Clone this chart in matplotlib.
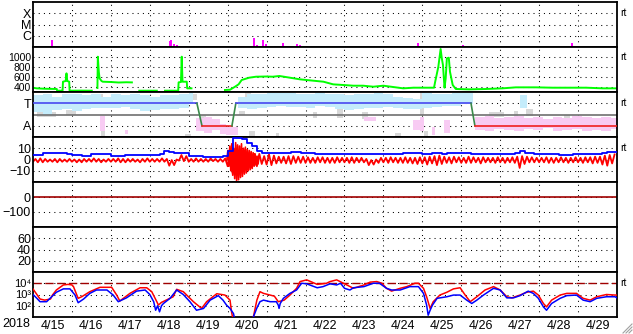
import numpy as np
import matplotlib
matplotlib.use("Agg")
import matplotlib.pyplot as plt
from matplotlib.ticker import NullLocator, FixedLocator
import matplotlib.transforms as mtransforms
from matplotlib.lines import Line2D

plt.rcParams['font.family'] = ['Liberation Sans', 'DejaVu Sans']
plt.rcParams['font.size'] = 9

# ---------------- data (x = days since 2018-04-15 00:00) ----------------
day_labels = ['4/15', '4/16', '4/17', '4/18', '4/19', '4/20', '4/21', '4/22',
              '4/23', '4/24', '4/25', '4/26', '4/27', '4/28', '4/29']
year_label = '2018'

# X-ray flare markers
flare_t = [0.49, 3.51, 3.55, 3.62, 3.70, 3.78, 3.93, 5.32, 5.36, 5.39, 5.68, 5.75,
           5.92, 5.99, 6.22, 6.43, 6.77, 6.86, 8.77, 9.90, 11.05, 13.85]
flare_flux = [4.2e-7, 3.6e-7, 4.2e-7, 1.7e-7, 1.5e-7, 1.3e-7, 1.2e-7, 1.3e-7, 1.3e-7,
              1.3e-7, 6.3e-7, 1.5e-7, 4.2e-7, 1.9e-7, 1.2e-7, 2.4e-7, 1.9e-7, 1.5e-7,
              1.2e-7, 2.4e-7, 1.4e-7, 2.1e-7]

# Solar wind speed (nan = data gap)
speed_t = [0.0, 0.09, 0.3, 0.61, 0.62, 0.74, 0.76, 0.77, 0.84, 0.86, 0.88, 0.93, 0.94, 1.2, 1.51, 1.52,
           1.655, 1.665, 1.69, 1.71, 1.76, 1.79, 2.0, 2.2, 2.4, 2.54, 2.55,
           2.73, 3.18, 3.19,
           3.39, 3.73, 3.74, 3.80, 3.82, 3.84, 3.95, 3.96, 4.07, 4.08,
           4.93, 5.06, 5.19, 5.28, 5.36, 5.55, 5.73, 6.0, 6.16, 6.33, 6.6, 6.86, 7.11, 7.46,
           7.71, 7.97, 8.23, 8.48, 8.74, 9.0, 9.25, 9.51, 9.77, 10.03, 10.3, 10.33, 10.41,
           10.47, 10.5, 10.53, 10.57, 10.6, 10.63, 10.68, 10.71, 10.78, 10.86, 11.2, 11.63,
           12.06, 12.4, 12.92, 13.35, 13.78, 14.21, 14.64, 15.0]
speed_v = [386, 373, 365, 360, 326, 326, 330, 506, 520, 673, 520, 506, 326, 328, 326, np.nan,
           380, 1006, 706, 573, 520, 506, 500, 490, 495, 492, np.nan,
           326, 326, np.nan,
           326, 326, 493, 500, 1006, 506, 506, 373, 373, np.nan,
           340, 345, 406, 453, 540, 586, 606, 610, 606, 620, 586, 553, 533, 506,
           453, 440, 426, 426, 406, 426, 400, 373, 386, 386, 386, 506, 800,
           1160, 973, 840, 386, 573, 973, 986, 706, 440, 360, 353, 360,
           373, 393, 393, 386, 386, 386, 373, 373]

# IMF sector (3 = Toward, 1 = Away)
sector_t = [0.0, 4.21, 4.34, 5.11, 5.21, 11.25, 11.35, 15.0]
sector_v = [3, 3, 1, 1, 3, 3, 1, 1]

# Light-blue / pink / grey polarity scatter, as (start, end, low, high) stripes
blue_t0 = [0, .25, .5, .75, 1, 1.25, 1.5, 1.75, 2, 2.25, 2.5, 2.75, 3, 3.25, 3.5, 3.75, 4.0,
           5.27, 5.5, 5.75, 6, 6.25, 6.5, 6.75, 7, 7.25, 7.5, 7.75, 8, 8.25, 8.5, 8.75,
           9, 9.25, 9.5, 9.75, 10, 10.25, 10.5, 10.75, 11.0, 12.5]
blue_t1 = [.25, .5, .75, 1, 1.25, 1.5, 1.75, 2, 2.25, 2.5, 2.75, 3, 3.25, 3.5, 3.75, 4.0, 4.12,
           5.5, 5.75, 6, 6.25, 6.5, 6.75, 7, 7.25, 7.5, 7.75, 8, 8.25, 8.5, 8.75, 9,
           9.25, 9.5, 9.75, 10, 10.25, 10.5, 10.75, 11.0, 11.3, 12.7]
blue_lo = [2.2, 2.0, 2.4, 2.5, 2.3, 2.5, 2.6, 2.6, 2.6, 2.7, 2.5, 2.3, 2.4, 2.5, 2.5, 2.6, 2.9,
           2.6, 2.5, 2.6, 2.7, 2.8, 2.7, 2.7, 2.6, 2.8, 2.7, 2.5, 2.4, 2.5, 2.6, 2.6,
           2.7, 2.6, 2.5, 2.5, 2.6, 2.7, 2.8, 2.8, 2.9, 2.6]
blue_hi = [3.7, 3.8, 3.6, 3.8, 3.8, 3.7, 3.8, 3.6, 3.8, 3.7, 3.8, 3.7, 3.6, 3.7, 3.7, 3.8, 3.9,
           3.6, 3.8, 3.8, 3.9, 3.9, 3.9, 3.8, 3.8, 3.9, 3.8, 3.8, 3.7, 3.8, 3.8, 3.9,
           3.8, 3.6, 3.5, 3.4, 3.9, 3.8, 3.8, 3.9, 3.9, 3.7]

pink_t0 = [1.72, 2.37, 4.18, 4.4, 4.6, 4.8, 4.95, 8.5, 9.75, 9.95, 10.25, 10.55,
           11.35, 11.6, 11.85, 12.1, 12.35, 12.6, 12.85, 13.1, 13.35, 13.6, 13.85, 14.1,
           14.35, 14.6, 14.85]
pink_t1 = [1.85, 2.45, 4.4, 4.6, 4.8, 4.95, 5.27, 8.8, 10.0, 10.05, 10.32, 10.7,
           11.6, 11.85, 12.1, 12.35, 12.6, 12.85, 13.1, 13.35, 13.6, 13.85, 14.1, 14.35,
           14.6, 14.85, 15.0]
pink_lo = [0.5, 0.3, 0.5, 0.4, 0.6, 0.3, 0.2, 1.4, 0.6, 0.5, 0.2, 0.4,
           0.6, 0.5, 0.7, 0.6, 0.5, 0.7, 0.6, 0.8, 0.5, 0.6, 0.7, 0.5,
           0.6, 0.5, 0.7]
pink_hi = [1.85, 0.6, 1.7, 1.8, 1.6, 1.2, 0.9, 1.8, 1.5, 1.8, 0.9, 1.5,
           1.8, 1.9, 1.7, 1.8, 1.9, 1.7, 1.8, 1.6, 1.8, 1.7, 1.9, 1.8,
           1.7, 1.8, 1.7]

grey_t0 = [0.1, 0.85, 1.68, 1.75, 3.9, 3.95, 4.3, 5.3, 5.45, 5.55, 6.25, 7.2, 7.8,
           8.45, 9.3, 9.95, 10.05, 11.7, 12.35, 12.65, 13.65]
grey_t1 = [0.6, 1.1, 1.8, 1.85, 4.05, 4.2, 4.45, 5.45, 5.6, 5.7, 6.32, 7.3, 7.95,
           8.6, 9.45, 10.05, 10.15, 12.1, 12.45, 12.85, 13.8]
grey_lo = [1.8, 2.0, 3.3, 0.0, 0.0, 3.3, 1.2, 2.0, 3.6, 0.0, 0.0, 1.7, 1.7,
           1.6, 0.0, 2.0, 0.0, 1.8, 1.9, 1.9, 1.6]
grey_hi = [2.2, 2.4, 3.8, 0.5, 0.3, 3.8, 2.0, 2.3, 4.0, 0.5, 0.4, 2.2, 2.5,
           2.2, 0.4, 3.9, 0.5, 2.2, 2.3, 2.5, 2.0]

# IMF Bt (blue) and Bz range (red), 3-hour bins
bt = [4.0, 4.2, 5.5, 6.0, 6.2, 5.8, 5.5, 5.2,
      4.0, 3.8, 3.5, 3.2, 4.5, 5.0, 5.2, 5.0,
      3.2, 3.0, 3.5, 4.0, 4.0, 4.2, 4.0, 4.0,
      4.0, 4.2, 4.5, 7.5, 7.0, 6.2, 6.0, 6.0,
      3.0, 2.8, 2.8, 2.6, 2.5, 2.5, 2.6, 3.0,
      8.0, 19.0, 19.0, 18.0, 15.0, 12.0, 8.0, 6.0,
      6.0, 6.2, 6.2, 6.0, 5.8, 6.5, 6.3, 6.0,
      5.5, 5.5, 5.3, 5.3, 5.2, 5.0, 5.0, 5.0,
      5.0, 5.0, 5.2, 5.0, 4.8, 4.6, 4.5, 4.5,
      4.8, 5.0, 5.0, 4.8, 5.5, 5.8, 5.5, 5.5,
      5.0, 5.2, 5.5, 5.5, 5.2, 5.5, 5.5, 5.5,
      5.5, 5.5, 5.0, 5.0, 5.2, 5.3, 5.0, 5.0,
      5.0, 5.2, 5.2, 5.5, 8.0, 6.0, 5.5, 5.0,
      5.0, 5.2, 5.0, 4.5, 4.2, 4.0, 4.2, 4.5,
      5.0, 5.2, 5.0, 5.2, 5.0, 5.5, 6.8, 7.0]
bz_lo = [-2, -2.5, -2.5, -2, -2, -2.5, -2, -2,
         -2, -2.5, -2.5, -2, -2, -2, -2.5, -2,
         -2, -2, -2.5, -2.5, -2, -2, -2.5, -2,
         -2, -2, -2, -2, -5.5, -5, -1, -1.5,
         -2, -2, -2, -2, -2, -1.5, -2, -2,
         -6, -12, -12, -10, -9, -7, -6, -4,
         -4.5, -5, -3.5, -3, -3.5, -4, -3, -3,
         -3, -3, -3, -2.5, -3, -3, -3, -2.5,
         -2.5, -3, -3, -2.5, -2.5, -5, -4.5, -3,
         -2.5, -3, -2.5, -3, -3, -3, -3.5, -4,
         -3.5, -4.5, -3.5, -5, -4, -3, -3.5, -2.5,
         -3, -3, -3, -2.5, -3.5, -2.5, -2.5, -3,
         -2.5, -3, -2.5, -3, -7.5, -4, -2.5, -2.5,
         -2.5, -2.5, -3, -3, -2.5, -2.5, -3, -2.5,
         -2.5, -3, -2.5, -3.5, -3, -4.5, -5.5, -3.5]
bz_hi = [0.5, 1, 0.5, 0, 0.5, 0.5, 0, 0.5,
         0, 0, 0.5, 0.5, 1, 0.5, 0, 0.5,
         0.5, 1, 0.5, 0.5, 0.5, 0, 0.5, 1,
         0.5, 0.5, 1, 0.5, -0.5, 0, 4, 3,
         0.5, 1, 0.5, 0.5, 1, 0.5, 0.5, 1,
         6, 9, 9, 8, 6, 5, 5, 3,
         4.5, 3.5, 2.5, 2.5, 3, 3, 2.5, 2.5,
         2, 1.5, 2, 2, 1.5, 1.5, 2, 1.5,
         1.5, 2, 1.5, 1.5, 0.5, -0.5, 0, 1.5,
         1.5, 2, 1.5, 1.5, 2, 1.5, 1.5, 2,
         2, 2.5, 3, 3.5, 2.5, 2, 2.5, 2,
         1.5, 2.5, 2, 1.5, 2, 1.5, 1.5, 2,
         1.5, 1.5, 2, 2.5, 3, 2.5, 2, 1.5,
         1.5, 2, 1.5, 1.5, 2, 1.5, 1.5, 2,
         1.5, 2, 2, 2.5, 2.5, 3.5, 4, 4.5]
# storm interval Bz, finer sampling (4/20 00-19 UT)
storm_t0 = 4.98
storm_dt = 0.025
storm_bz = [0, 8, -6, 12, -10, 14, -14, 10, -17, 15, -19, 13, -18, 12, -16, 14, -15, 10,
            -13, 11, -12, 9, -10, 8, -9, 7, -8, 6, -6, 5, -5, 3, -4, 2]

# Dst
dst_t = [0.0, 15.0]
dst_v = [0.0, 0.0]

# Electron flux (log10), red and blue
e_red_t = [0.0, 0.1, 0.18, 0.3, 0.45, 0.5, 0.6, 0.78, 0.9, 1.0, 1.04, 1.12, 1.16, 1.25, 1.46, 1.72,
           2.02, 2.15, 2.23, 2.49, 2.75, 2.92, 3.05, 3.18, 3.22, 3.3, 3.6, 3.69, 3.86, 4.12, 4.33,
           4.46, 4.72, 4.93, 5.06, 5.1, 5.15, 5.6, 5.66, 5.75, 5.83, 5.92, 6.09, 6.2, 6.3, 6.45,
           6.6, 6.77, 6.86, 7.03, 7.3, 7.54, 7.63, 7.8, 8.06, 8.23, 8.5, 8.66, 8.83, 8.96, 9.08,
           9.21, 9.43, 9.6, 9.81, 9.9, 10.03, 10.11, 10.2, 10.28, 10.45, 10.63, 10.8, 10.97,
           11.1, 11.23, 11.4, 11.61, 11.83, 12.0, 12.17, 12.3, 12.51, 12.68, 12.85, 12.98,
           13.11, 13.19, 13.32, 13.54, 13.71, 13.96, 14.13, 14.31, 14.48, 14.73, 14.95, 15.0]
e_red_log = [3.49, 3.0, 2.6, 2.5, 2.6, 2.95, 3.4, 3.85, 3.9, 3.85, 3.7, 3.0, 2.66, 2.8, 3.25, 3.64,
             3.64, 2.95, 2.42, 3.1, 3.6, 3.6, 3.25, 2.36, 2.06, 2.3, 2.8, 3.46, 3.25, 2.36, 1.76,
             2.36, 3.07, 2.95, 2.5, 1.46, 0.5, 0.5, 1.0, 2.5, 3.25, 3.1, 2.95, 2.85, 2.36, 2.5,
             2.95, 3.55, 4.15, 4.3, 3.9, 4.0, 4.15, 4.3, 3.85, 3.55, 3.85, 4.1, 4.15, 4.0, 3.55,
             3.3, 3.55, 3.7, 4.0, 4.0, 3.55, 2.8, 1.76, 2.36, 2.95, 3.2, 3.5, 3.6,
             2.95, 2.36, 2.8, 3.4, 3.7, 3.4, 2.8, 2.7, 2.95, 3.2, 3.3, 2.95,
             2.2, 1.9, 2.5, 2.95, 3.1, 3.1, 2.66, 2.5, 2.8, 3.0, 2.95, 2.95]
e_blue_t = [0.0, 0.1, 0.18, 0.35, 0.45, 0.6, 0.78, 0.95, 1.08, 1.16, 1.3, 1.46, 1.63, 1.9, 2.06,
            2.19, 2.4, 2.66, 2.88, 3.0, 3.1, 3.15, 3.2, 3.25, 3.3, 3.35, 3.52, 3.69, 3.86, 4.03,
            4.2, 4.38, 4.55, 4.76, 4.88, 4.97, 5.06, 5.15, 5.2, 5.58, 5.66, 5.75, 5.83, 5.92,
            6.09, 6.25, 6.3, 6.32, 6.35, 6.43, 6.6, 6.77, 6.9, 7.03, 7.3, 7.45, 7.63, 7.8, 7.9,
            8.0, 8.14, 8.23, 8.5, 8.74, 8.9, 9.08, 9.21, 9.43, 9.68, 9.9, 10.03, 10.11, 10.15,
            10.2, 10.26, 10.38, 10.63, 10.8, 10.97, 11.14, 11.27, 11.4, 11.57, 11.83, 12.0,
            12.17, 12.34, 12.51, 12.72, 12.85, 12.98, 13.11, 13.19, 13.32, 13.54, 13.71, 13.96,
            14.13, 14.31, 14.48, 14.73, 14.95, 15.0]
e_blue_log = [3.0, 2.66, 2.36, 2.36, 2.7, 3.2, 3.5, 3.5, 2.95, 2.27, 2.6, 3.1, 3.4, 3.4, 2.95,
              2.36, 2.7, 3.3, 3.4, 3.0, 2.36, 1.6, 2.0, 1.46, 2.0, 2.2, 2.66, 3.4, 3.0, 2.36,
              1.6, 1.76, 2.5, 2.9, 2.5, 2.06, 1.76, 1.3, 0.5, 0.5, 1.0, 1.8, 2.36, 2.5,
              2.36, 2.36, 2.06, 1.76, 2.2, 2.66, 3.1, 3.4, 4.0, 3.95, 3.6, 3.7, 3.95, 3.85, 4.0,
              3.55, 3.4, 3.6, 3.7, 4.0, 4.0, 3.55, 3.4, 3.4, 3.7, 3.7, 3.1, 2.06, 1.16,
              1.6, 2.06, 2.66, 2.8, 2.95, 2.95, 2.5, 2.2, 2.5, 2.95, 3.55, 3.4,
              2.7, 2.7, 2.9, 3.3, 3.1, 2.66, 1.9, 1.6, 2.2, 2.66, 2.9, 2.95,
              2.5, 2.36, 2.66, 2.8, 2.8, 2.7]
e_threshold = 1e4

# ---------------- figure ----------------
W, H = 633, 334
fig = plt.figure(figsize=(W / 100, H / 100), dpi=100)
x0, x1 = 33, 617
ptop, ph = 2, 45
axes = []
for i in range(7):
    top = ptop + ph * i
    ax = fig.add_axes([x0 / W, 1 - (top + ph) / H, (x1 - x0) / W, ph / H])
    axes.append(ax)

grid_kw = dict(color='black', linewidth=0.75, linestyle=(0, (1, 4)))
for ax in axes:
    ax.set_xlim(0, 15)
    ax.xaxis.set_major_locator(FixedLocator(np.arange(1, 15)))
    ax.xaxis.set_minor_locator(NullLocator())
    ax.tick_params(axis='both', which='both', length=0, pad=1.5, labelsize=9)
    ax.tick_params(axis='x', labelbottom=False)
    ax.grid(True, axis='both', which='major', **grid_kw)
    ax.set_axisbelow(True)
    for s in ax.spines.values():
        s.set_linewidth(1.3)
        s.set_color('black')

def rt(ax, y):
    tr = mtransforms.blended_transform_factory(ax.transAxes, ax.transData)
    ax.text(1.006, y, 'rt', transform=tr, fontsize=7.5, va='center', ha='left')

# Panel 1: X-ray flares
ax = axes[0]
ax.set_yscale('log')
ax.set_ylim(1e-7, 1e-3)
ax.yaxis.set_major_locator(FixedLocator([1e-4, 1e-5, 1e-6]))
ax.yaxis.set_minor_locator(NullLocator())
ax.set_yticklabels(['X', 'M', 'C'])
ax.vlines(flare_t, 1e-7, flare_flux, color='#ff00ff', linewidth=1.4)
rt(ax, 1e-4)

# Panel 2: speed
ax = axes[1]
ax.set_ylim(300, 1200)
ax.set_yticks([400, 600, 800, 1000])
ax.tick_params(axis='y', labelsize=7.5)
ax.plot(speed_t, speed_v, color='#00ff00', linewidth=1.4)
rt(ax, 1000)

# Panel 3: sector
ax = axes[2]
ax.set_ylim(0, 4)
ax.set_yticks([3, 1])
ax.set_yticklabels(['T', 'A'])
for t0, t1, lo, hi, c in [(grey_t0, grey_t1, grey_lo, grey_hi, '#d8d8d8'),
                          (blue_t0, blue_t1, blue_lo, blue_hi, '#c4ecfb'),
                          (pink_t0, pink_t1, pink_lo, pink_hi, '#f8cbf3')]:
    ax.bar(t0, np.array(hi) - np.array(lo), width=np.array(t1) - np.array(t0),
           bottom=lo, align='edge', color=c, linewidth=0, zorder=1)
ax.axhline(2, color='#707070', linewidth=1.2, zorder=2)
for i in range(len(sector_t) - 1):
    a, b = sector_v[i], sector_v[i + 1]
    col = '#4848f0' if a == b == 3 else ('#f02020' if a == b == 1 else '#3a8a4a')
    ax.plot(sector_t[i:i + 2], sector_v[i:i + 2], color=col, linewidth=1.2, zorder=3)
rt(ax, 3)

# Panel 4: IMF
ax = axes[3]
ax.set_ylim(-20, 20)
ax.set_yticks([10, 0, -10])
tb = np.arange(len(bt)) * 0.125
zz_t = np.ravel(np.column_stack([tb, tb + 0.0625]))
zz_v = np.ravel(np.column_stack([bz_lo, bz_hi]))
ax.plot(zz_t, zz_v, color='#ff0000', linewidth=1.3, zorder=2)
st = storm_t0 + storm_dt * np.arange(len(storm_bz))
ax.plot(st, storm_bz, color='#ff0000', linewidth=1.2, zorder=2)
ax.plot(np.append(tb, 15.0), np.append(bt, bt[-1]), drawstyle='steps-post',
        color='#0000ff', linewidth=1.3, zorder=3)
rt(ax, 10)

# Panel 5: Dst
ax = axes[4]
ax.set_ylim(-200, 100)
ax.set_yticks([0, -100])
ax.plot(dst_t, dst_v, color='#a00000', linewidth=1.2)

# Panel 6
ax = axes[5]
ax.set_ylim(0, 80)
ax.set_yticks([20, 40, 60])

# Panel 7: electrons
ax = axes[6]
ax.set_yscale('log')
ax.set_ylim(10, 1e5)
ax.yaxis.set_major_locator(FixedLocator([1e2, 1e3, 1e4]))
ax.yaxis.set_minor_locator(NullLocator())
ax.set_yticklabels(['10\u00b2', '10\u00b3', '10\u2074'])
ax.tick_params(axis='y', labelsize=8)
ax.axhline(e_threshold, color='#a00000', linewidth=1.0, dashes=(6, 2.5), zorder=2)
ax.plot(e_red_t, 10 ** np.array(e_red_log), color='#ff0000', linewidth=1.1, zorder=3)
ax.plot(e_blue_t, 10 ** np.array(e_blue_log), color='#0000ff', linewidth=1.1, zorder=4)
rt(ax, 1e4)
ax.xaxis.set_minor_locator(FixedLocator(np.arange(15) + 0.5))
ax.set_xticklabels(day_labels, minor=True)
ax.tick_params(axis='x', which='minor', labelbottom=True, length=0, pad=2, labelsize=9)
fig.text(16 / W, 1 - 324 / H, year_label, ha='center', va='center', fontsize=9)

# resize grip decoration
for k in range(3):
    d = 3 + 3 * k
    fig.add_artist(Line2D([(W - 1 - d) / W, (W - 1) / W], [1 / H, (1 + d) / H],
                          color='#a0a0a0', linewidth=0.8, transform=fig.transFigure))

fig.savefig('out.png', dpi=100)
